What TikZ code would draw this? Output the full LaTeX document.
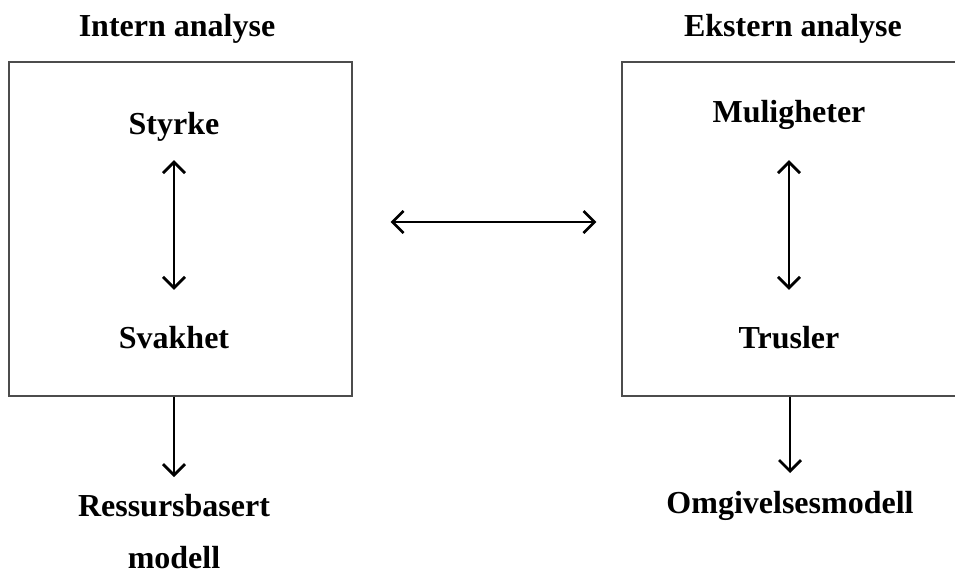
\documentclass[tikz,border=0pt]{standalone}
\usepackage{fontspec}
\setmainfont{Liberation Serif}
\usetikzlibrary{arrows.meta}
\begin{document}
\begin{tikzpicture}[
                x=1pt,y=-1pt,
                >={Straight Barb[length=11pt,width=22pt]},
                every node/.append style={font=\fontsize{32}{52}\selectfont\bfseries,
                    inner sep=0pt,text height=22pt,text depth=7pt},
                link/.style={line width=2.7pt},
                box/.style={draw=black!70,line width=1.2pt,
                    minimum width=343pt,minimum height=334pt}
            ]
                \clip (0,0) rectangle (955,575);
                \node[box] (intbox) at (180.5,229) {};
                \node[box] (ekstbox) at (793.5,229) {};

                \node (intern) at (177,29.5) {Intern analyse};
                \node (ekstern) at (793,29.5) {Ekstern analyse};
                \node (styrke) at (174,127.5) {Styrke};
                \node (svakhet) at (174,340.5) {Svakhet};
                \node (muligheter) at (789,115.5) {Muligheter};
                \node (trusler) at (789,340.5) {Trusler};
                \node[align=center,anchor=north,text height=73pt,text depth=0pt] (ressurs) at (174,495) {Ressursbasert\\modell};
                \node[anchor=north] (omgiv) at (790,491) {Omgivelsesmodell};

                \draw[link,<->,shorten <=18pt,shorten >=36pt] (styrke) -- (svakhet);
                \draw[link,<->,shorten <=30pt,shorten >=36pt] (muligheter) -- (trusler);
                \draw[link,<->,shorten <=38pt,shorten >=25pt] ([yshift=7pt]intbox.east) -- ([yshift=7pt]ekstbox.west);
                \draw[link,->,shorten >=18pt] (intbox.south -| ressurs) -- (ressurs);
                \draw[link,->,shorten >=18pt] (ekstbox.south -| omgiv) -- (omgiv);
            \end{tikzpicture}
\end{document}
